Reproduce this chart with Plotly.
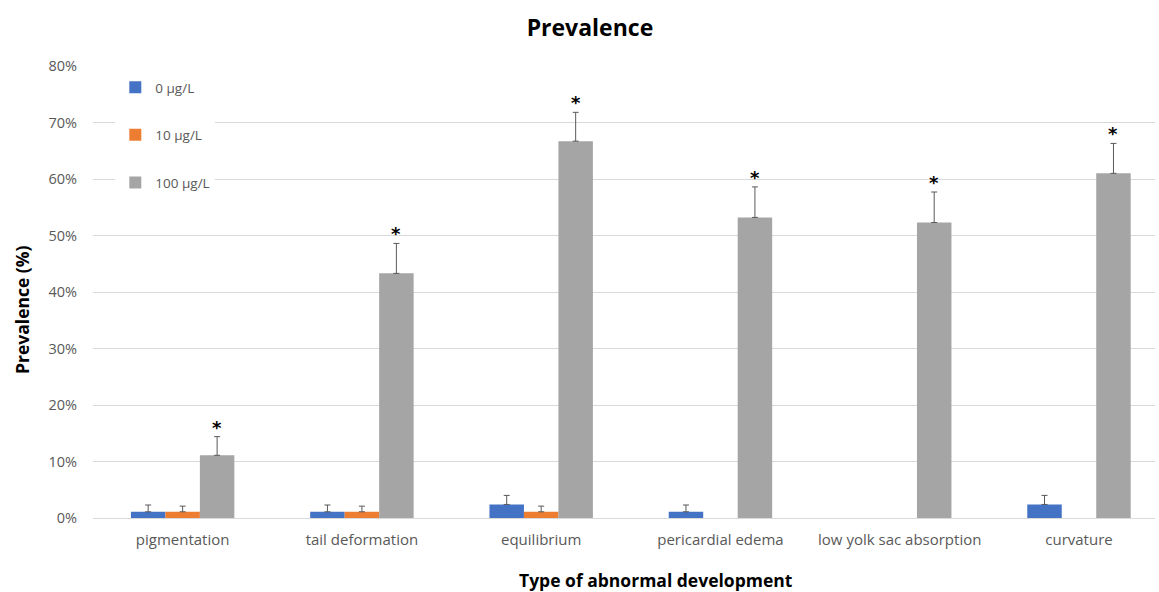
import plotly.graph_objects as go

# Abnormal development categories
categories = ["pigmentation", "tail deformation", "equilibrium",
              "pericardial edema", "low yolk sac absorption", "curvature"]

# Prevalence (%) per concentration; None = no affected larvae
prev_0 = [1.1, 1.1, 2.4, 1.1, None, 2.4]
prev_10 = [1.1, 1.1, 1.1, None, None, None]
prev_100 = [11.1, 43.3, 66.7, 53.2, 52.3, 61.0]

# Error bar lengths (%)
err_0 = [1.2, 1.2, 1.6, 1.2, None, 1.6]
err_10 = [1.0, 1.0, 1.0, None, None, None]
err_100 = [3.3, 5.3, 5.1, 5.4, 5.4, 5.3]

# Significance markers over the 100 µg/L bars
signif_100 = ["*", "*", "*", "*", "*", "*"]

series = [
    ("0 µg/L", prev_0, err_0, "#4472C4"),
    ("10 µg/L", prev_10, err_10, "#ED7D31"),
    ("100 µg/L", prev_100, err_100, "#A5A5A5"),
]

bargap = 0.423
xpos = list(range(len(categories)))

fig = go.Figure()
for i, (name, vals, errs, color) in enumerate(series):
    fig.add_trace(go.Bar(
        x=xpos, y=vals, name=name, legendgroup=name,
        marker=dict(color=color, line=dict(width=0)),
        error_y=dict(type="data", array=errs, symmetric=False,
                     arrayminus=[0] * len(errs),
                     color="#595959", thickness=1, width=3),
    ))

bar_w = (1 - bargap) / 3
for i, (v, e, s) in enumerate(zip(prev_100, err_100, signif_100)):
    fig.add_annotation(x=i + bar_w, y=v + e, text="<b>" + s + "</b>",
                       showarrow=False, xref="x", yref="y",
                       yanchor="bottom", yshift=-3,
                       font=dict(size=18, color="#000000", family="DejaVu Sans"))

# Axis titles
fig.add_annotation(text="<b>Type of abnormal development</b>", showarrow=False,
                   xref="paper", yref="paper", x=(656 - 93) / 1062, y=-62 / 452,
                   xanchor="center", yanchor="middle",
                   font=dict(size=17.5, color="#000000"))
fig.add_annotation(text="<b>Prevalence (%)</b>", showarrow=False, textangle=-90,
                   xref="paper", yref="paper", x=(22 - 93) / 1062, y=(518 - 310) / 452,
                   xanchor="center", yanchor="middle",
                   font=dict(size=17.5, color="#000000"))

# White backdrop behind the legend, hiding the gridlines there
fig.add_shape(type="rect", xref="paper", yref="paper", layer="between",
              x0=0, x1=(253 - 93) / 1062, y0=(518 - 205) / 452, y1=1.02,
              fillcolor="white", line=dict(width=0))

fig.update_layout(
    width=1159, height=592,
    margin=dict(l=93, r=4, t=66, b=74),
    paper_bgcolor="white", plot_bgcolor="white",
    barmode="group", bargap=bargap, bargroupgap=0,
    font=dict(family="Open Sans", color="#595959", size=12),
    title=dict(text="<b>Prevalence</b>", x=0.509, xanchor="center",
               y=0.952, yanchor="middle",
               font=dict(size=23, color="#000000", family="Open Sans")),
    legend=dict(x=0.021, y=(518 - 72) / 452, xanchor="left", yanchor="top",
                bgcolor="white", tracegroupgap=27, traceorder="grouped",
                font=dict(size=13.5, color="#595959"), itemwidth=30),
    xaxis=dict(tickmode="array", tickvals=xpos, ticktext=categories,
               range=[-0.5, 5.424], showgrid=False, zeroline=False,
               showline=False, ticks="", tickfont=dict(size=15),
               ticklabelstandoff=11),
    yaxis=dict(range=[0, 80], dtick=10, ticksuffix="%",
               gridcolor="#D9D9D9", gridwidth=1, zeroline=True,
               zerolinecolor="#D9D9D9", zerolinewidth=1, showline=False,
               ticks="", ticklabelstandoff=15, tickfont=dict(size=14.5)),
)

fig.write_html("out.html")
